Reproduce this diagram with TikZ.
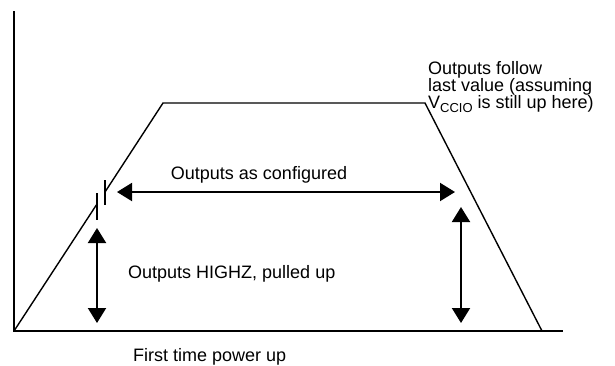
\documentclass[tikz,border=0pt]{standalone}
\usepackage{fontspec}
\setmainfont{Liberation Sans}
\usetikzlibrary{arrows.meta}
\begin{document}
\begin{tikzpicture}[x=1pt,y=-1pt,
  axis/.style={line width=2pt},
  curve/.style={line width=1.4pt, line join=miter},
  breakbar/.style={line width=2pt},
  dimarrow/.style={line width=2pt, {Triangle[length=15pt,width=18pt]}-{Triangle[length=15pt,width=18pt]}},
  lbl/.style={inner sep=0pt, font=\fontsize{18}{18}\selectfont},
  tight/.style={text height=12.5pt, text depth=3pt}]
\useasboundingbox (0,0) rectangle (615,365);
% axes
\coordinate (ytop) at (14,11);
\coordinate (origin) at (14,331);
\coordinate (xend) at (563,331);
\draw[axis] (ytop) -- (origin) -- (xend);
% trapezoid
\coordinate (b1) at (97,204);
\coordinate (b2) at (105,192);
\coordinate (tl) at (163,103);
\coordinate (tr) at (425,103);
\coordinate (br) at (542,331);
\draw[curve] (origin) -- (b1);
\draw[curve] (b2) -- (tl) -- (tr) -- (br);
% break bars
\coordinate (b1t) at (97,193); \coordinate (b1b) at (97,220);
\coordinate (b2t) at (105,180); \coordinate (b2b) at (105,205);
\draw[breakbar] (b1t) -- (b1b);
\draw[breakbar] (b2t) -- (b2b);
% arrows
\coordinate (hl) at (117,192); \coordinate (hr) at (455,192);
\draw[dimarrow] (hl) -- (hr);
\coordinate (lt) at (97,228); \coordinate (lb) at (97,323);
\draw[dimarrow] (lt) -- (lb);
\coordinate (rt) at (461,207); \coordinate (rb) at (461,323);
\draw[dimarrow] (rt) -- (rb);
% labels
\node[lbl, anchor=base] (conf) at (259,179) {Outputs as configured};
\node[lbl, anchor=base west] (highz) at (128,278) {Outputs HIGHZ, pulled up};
\node[lbl, anchor=base west] (first) at (133,361) {First time power up};
\node[lbl, tight, anchor=base west] (f1) at (428,74.5) {Outputs follow};
\node[lbl, tight, anchor=base west] (f2) at (428,91.5) {last value (assuming};
\node[lbl, tight, anchor=base west] (f3) at (428,108) {V\raisebox{-4pt}{\fontsize{13}{13}\selectfont CCIO} is still up here)};
\end{tikzpicture}
\end{document}
